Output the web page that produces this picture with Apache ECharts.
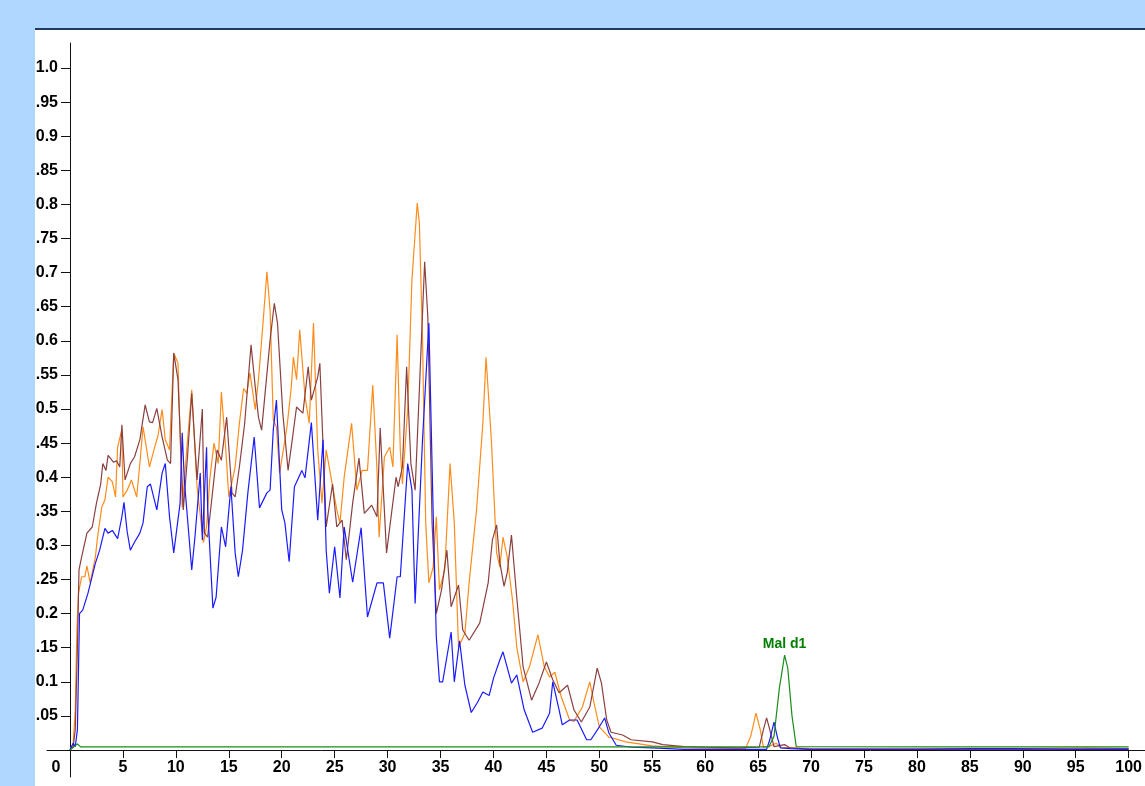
<!DOCTYPE html>
<html>
<head>
<meta charset="utf-8">
<script src="https://cdn.jsdelivr.net/npm/echarts@6/dist/echarts.min.js"></script>
<style>
html,body{margin:0;padding:0;background:#fff;}
#chart{width:1145px;height:786px;}
</style>
</head>
<body>
<div id="chart"></div>
<script>
// ---- data (x, intensity) ----
const xTicks = [0,5,10,15,20,25,30,35,40,45,50,55,60,65,70,75,80,85,90,95,100];
const yTickStep = 0.05;

const orangeData = [[0,0],[0.3,0.01],[0.5,0.06],[0.65,0.176],[0.8,0.23],[1.1,0.254],[1.4,0.254],[1.6,0.27],[1.9,0.245],[2.4,0.283],[2.6,0.312],[3.0,0.356],[3.3,0.367],[3.6,0.4],[4.0,0.393],[4.3,0.371],[4.5,0.444],[4.9,0.47],[5.0,0.371],[5.4,0.381],[5.8,0.396],[6.3,0.371],[6.6,0.42],[6.9,0.474],[7.3,0.435],[7.5,0.415],[8.0,0.444],[8.3,0.46],[8.7,0.499],[9.0,0.455],[9.4,0.44],[9.8,0.582],[10.2,0.567],[10.6,0.356],[11.0,0.435],[11.5,0.528],[12.0,0.386],[12.6,0.304],[12.9,0.327],[13.2,0.396],[13.6,0.45],[14.0,0.42],[14.3,0.525],[14.7,0.444],[15.0,0.371],[15.6,0.415],[16.0,0.479],[16.4,0.53],[16.7,0.523],[17.0,0.553],[17.5,0.499],[17.8,0.543],[18.2,0.62],[18.6,0.701],[18.9,0.645],[19.2,0.484],[19.5,0.474],[19.8,0.406],[20.5,0.474],[20.9,0.532],[21.1,0.576],[21.4,0.543],[21.7,0.616],[22.2,0.518],[22.6,0.479],[23.0,0.626],[23.4,0.44],[23.8,0.362],[24.2,0.44],[24.7,0.396],[25.2,0.352],[25.5,0.333],[25.9,0.4],[26.6,0.479],[27.1,0.381],[27.6,0.41],[28.1,0.41],[28.6,0.535],[29.0,0.41],[29.2,0.312],[29.7,0.43],[30.2,0.444],[30.5,0.415],[30.9,0.609],[31.2,0.44],[31.4,0.39],[31.9,0.5],[32.3,0.69],[32.8,0.802],[33.0,0.773],[33.3,0.601],[33.6,0.333],[33.9,0.245],[34.3,0.268],[34.6,0.342],[34.9,0.235],[35.4,0.264],[35.9,0.42],[36.3,0.333],[36.7,0.151],[37.3,0.171],[37.7,0.245],[38.4,0.352],[39.0,0.479],[39.3,0.576],[39.8,0.455],[40.3,0.289],[40.6,0.268],[40.9,0.312],[41.3,0.283],[41.8,0.22],[42.2,0.151],[42.8,0.1],[43.4,0.122],[44.2,0.169],[44.8,0.122],[45.3,0.107],[45.8,0.114],[46.4,0.078],[47.2,0.044],[47.6,0.042],[48.4,0.063],[49.1,0.1],[49.5,0.069],[50.0,0.034],[50.9,0.019],[52.5,0.012],[55,0.006],[58,0.003],[63.8,0.002],[64.3,0.02],[64.8,0.054],[65.2,0.03],[65.5,0.004],[66,0.005],[66.7,0.01],[67.2,0.004],[70,0.002],[80,0.002],[90,0.002],[96,0.003],[100,0.002]];

const brownData = [[0,0],[0.3,0.005],[0.5,0.03],[0.7,0.15],[0.85,0.264],[1.1,0.283],[1.6,0.318],[2.1,0.327],[2.5,0.362],[2.9,0.39],[3.1,0.42],[3.4,0.41],[3.6,0.432],[4.1,0.422],[4.4,0.424],[4.7,0.415],[4.9,0.477],[5.2,0.396],[5.7,0.42],[6.1,0.43],[6.6,0.455],[7.1,0.506],[7.5,0.481],[7.8,0.48],[8.2,0.501],[8.7,0.459],[9.2,0.425],[9.5,0.42],[9.8,0.582],[10.2,0.543],[10.7,0.352],[11.1,0.43],[11.5,0.523],[12.0,0.396],[12.5,0.5],[12.7,0.318],[13.0,0.312],[13.9,0.44],[14.3,0.425],[14.8,0.488],[15.3,0.377],[15.6,0.371],[16.0,0.415],[16.5,0.479],[17.1,0.594],[17.5,0.532],[17.8,0.488],[18.1,0.469],[18.9,0.601],[19.3,0.655],[19.6,0.626],[20.1,0.494],[20.6,0.41],[20.9,0.444],[21.4,0.503],[22.0,0.494],[22.5,0.562],[22.8,0.513],[23.4,0.547],[23.6,0.567],[24.2,0.327],[24.8,0.39],[25.2,0.327],[25.7,0.337],[26.1,0.279],[26.7,0.362],[27.3,0.428],[27.8,0.347],[28.5,0.359],[29.0,0.342],[29.3,0.472],[29.9,0.289],[30.8,0.4],[31.0,0.386],[31.4,0.415],[31.8,0.562],[32.2,0.42],[32.6,0.381],[33.0,0.528],[33.5,0.716],[33.8,0.635],[34.2,0.333],[34.6,0.2],[35.1,0.235],[35.6,0.293],[36.0,0.21],[36.7,0.242],[37.1,0.176],[37.7,0.161],[38.7,0.186],[39.5,0.245],[39.9,0.308],[40.3,0.33],[40.6,0.275],[41.0,0.24],[41.3,0.26],[41.7,0.315],[42.2,0.224],[42.8,0.122],[43.6,0.073],[44.3,0.098],[45.0,0.129],[45.6,0.103],[46.2,0.084],[47.0,0.095],[47.6,0.059],[48.3,0.041],[49.1,0.063],[49.8,0.12],[50.2,0.098],[50.7,0.044],[51.1,0.026],[52.2,0.022],[53.0,0.015],[55,0.012],[56,0.008],[58,0.005],[60,0.004],[63,0.003],[65.1,0.004],[65.5,0.03],[65.8,0.047],[66.1,0.03],[66.5,0.005],[67.5,0.008],[68,0.003],[70,0.001],[80,0.001],[90,0.001],[100,0.002]];

const blueData = [[0,0],[0.3,0.01],[0.5,0.005],[0.7,0.03],[0.9,0.2],[1.2,0.205],[1.7,0.23],[2.4,0.274],[2.8,0.293],[3.3,0.325],[3.6,0.318],[4.0,0.322],[4.5,0.31],[4.9,0.342],[5.1,0.363],[5.4,0.32],[5.7,0.293],[6.1,0.305],[6.6,0.318],[6.9,0.333],[7.3,0.386],[7.6,0.39],[8.2,0.352],[8.7,0.406],[9.0,0.42],[9.4,0.342],[9.8,0.289],[10.4,0.362],[10.6,0.465],[10.8,0.396],[11.5,0.264],[11.8,0.312],[12.3,0.406],[12.5,0.308],[12.9,0.444],[13.0,0.356],[13.5,0.208],[13.8,0.224],[14.3,0.327],[14.7,0.298],[15.2,0.386],[15.6,0.289],[15.9,0.254],[16.3,0.293],[16.8,0.377],[17.4,0.459],[17.9,0.355],[18.6,0.377],[18.9,0.381],[19.2,0.469],[19.5,0.513],[20.0,0.352],[20.3,0.333],[20.7,0.276],[21.2,0.386],[21.9,0.41],[22.2,0.399],[22.8,0.48],[23.4,0.337],[23.9,0.455],[24.2,0.293],[24.5,0.23],[25.0,0.298],[25.5,0.223],[25.9,0.327],[26.7,0.246],[27.5,0.326],[28.1,0.195],[29.0,0.245],[29.6,0.245],[30.2,0.164],[30.9,0.254],[31.2,0.254],[31.9,0.42],[32.3,0.381],[32.6,0.215],[33.3,0.455],[33.9,0.626],[34.3,0.35],[34.6,0.166],[34.9,0.1],[35.2,0.1],[36.0,0.173],[36.3,0.1],[36.8,0.16],[37.3,0.095],[37.9,0.055],[38.5,0.07],[39.0,0.085],[39.6,0.08],[40.0,0.105],[40.6,0.132],[40.9,0.144],[41.7,0.098],[42.2,0.11],[42.9,0.059],[43.7,0.026],[44.6,0.032],[45.3,0.054],[45.6,0.1],[46.2,0.059],[46.5,0.037],[47.2,0.044],[47.9,0.044],[48.8,0.015],[49.2,0.015],[50.0,0.034],[50.5,0.047],[50.9,0.025],[51.6,0.007],[53.1,0.004],[55,0.003],[58,0.001],[62,0.001],[65.8,0.001],[66.1,0.015],[66.5,0.041],[66.8,0.02],[67.1,0.003],[68,0.002],[70,0.001],[80,0.001],[85,0.002],[89,0.002],[95,0.001],[100,0.001]];

const greenData = [[0,0],[0.4,0.005],[0.7,0.009],[1.0,0.0045],[20,0.0045],[40,0.0045],[66,0.0045],[66.5,0.02],[67.0,0.09],[67.5,0.139],[67.8,0.12],[68.2,0.05],[68.6,0.005],[80,0.0045],[100,0.0045]];

const peakLabels = [{x:67.5, y:0.139, text:'Mal d1'}];

// ---- chart ----
const FONT = "'Liberation Sans', Arial, sans-serif";
const FS = 16;
const chart = echarts.init(document.getElementById('chart'), null, {renderer:'canvas'});

const fmtY = v => {
  const r = parseFloat((+v).toFixed(2));
  if (r === 0) return '';
  if (r === 1) return '1.0';
  return String(r);
};

const hidden = {axisLine:{show:false}, axisTick:{show:false}, axisLabel:{show:false}, splitLine:{show:false}};

chart.setOption({
  animation:false,
  backgroundColor:'#ffffff',
  grid:[
    {left:70, right:15, top:68, bottom:36},
    {left:47, right:0, top:43, bottom:9}
  ],
  xAxis:[
    {gridIndex:0, type:'value', min:0, max:100, interval:5,
     axisLine:{show:false}, splitLine:{show:false},
     axisTick:{show:true, inside:false, length:7, lineStyle:{color:'#111'}},
     axisLabel:{show:true, margin:10, color:'#000', fontSize:FS, fontWeight:'bold', fontFamily:FONT,
       formatter: v => (v === 0 ? '{z|0}' : String(v)),
       rich:{z:{padding:[0,28,0,0], color:'#000', fontSize:FS, fontWeight:'bold', fontFamily:FONT}}}},
    {gridIndex:0, type:'value', min:0, max:100, interval:5,
     axisLine:{show:false}, splitLine:{show:false}, axisLabel:{show:false},
     axisTick:{show:true, inside:true, length:8, lineStyle:{color:'#111'}}},
    Object.assign({gridIndex:1, type:'value', min:-23/10.6, max:100+15/10.6}, hidden,
     {axisLine:{show:true, onZero:true, lineStyle:{color:'#111', width:1}}})
  ],
  yAxis:[
    {gridIndex:0, type:'value', min:0, max:1, interval:yTickStep,
     axisLine:{show:false}, splitLine:{show:false},
     axisTick:{show:true, inside:false, length:9, lineStyle:{color:'#111'}},
     axisLabel:{show:true, margin:12, color:'#000', fontSize:FS, fontWeight:'bold', fontFamily:FONT, formatter:fmtY}},
    {gridIndex:0, type:'value', min:0, max:1, interval:yTickStep,
     axisLine:{show:false}, splitLine:{show:false}, axisLabel:{show:false},
     axisTick:{show:true, inside:true, length:8, lineStyle:{color:'#111'}}},
    Object.assign({gridIndex:1, type:'value', min:-27/682, max:707/682}, hidden,
     {axisLine:{show:true, onZero:true, lineStyle:{color:'#111', width:1}}})
  ],
  series:[
    {type:'line', name:'orange', data:orangeData, showSymbol:false, symbol:'none',
     lineStyle:{color:'#ff8c1a', width:1.2}, itemStyle:{color:'#ff8c1a'}, z:2},
    {type:'line', name:'brown', data:brownData, showSymbol:false, symbol:'none',
     lineStyle:{color:'#8b4040', width:1.2}, itemStyle:{color:'#8b4040'}, z:3},
    {type:'line', name:'blue', data:blueData, showSymbol:false, symbol:'none',
     lineStyle:{color:'#1a1aff', width:1.2}, itemStyle:{color:'#1a1aff'}, z:4},
    {type:'line', name:'green', data:greenData, showSymbol:false, symbol:'none',
     lineStyle:{color:'#1a8c1a', width:1.2}, itemStyle:{color:'#1a8c1a'}, z:5,
     markPoint:{symbol:'circle', symbolSize:1, itemStyle:{color:'rgba(0,0,0,0)'},
       label:{show:true, position:'top', distance:4, color:'#008000', fontWeight:'bold', fontSize:14, fontFamily:FONT,
         formatter: p => p.name},
       data: peakLabels.map(l => ({name:l.text, coord:[l.x, l.y]}))}}
  ],
  graphic:[
    {type:'rect', z:100, shape:{x:0, y:0, width:1145, height:28}, style:{fill:'#afd7ff'}},
    {type:'rect', z:100, shape:{x:0, y:0, width:35, height:786}, style:{fill:'#afd7ff'}},
    {type:'rect', z:101, shape:{x:35, y:28, width:1110, height:2}, style:{fill:'#1f3a63'}}
  ]
});
</script>
</body>
</html>
